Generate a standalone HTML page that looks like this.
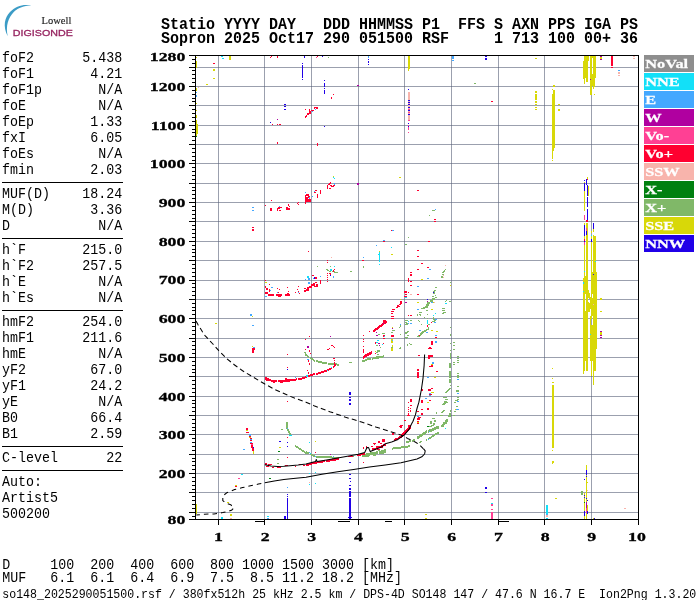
<!DOCTYPE html><html><head><meta charset="utf-8"><title>Ionogram</title>
<style>html,body{margin:0;padding:0;background:#fff}svg{display:block}.m,.mb,.ms,.s,.l{filter:grayscale(1)}#logo text{filter:opacity(0.999)}.m{font-family:"Liberation Mono",monospace;font-size:13.33px;fill:#000}.mb{font-family:"Liberation Mono",monospace;font-size:15px;font-weight:bold;fill:#000}.ms{font-family:"Liberation Mono",monospace;font-size:11.58px;fill:#000}.s{font-family:"Liberation Serif",serif;font-weight:bold;font-size:13px;fill:#000;stroke:#000;stroke-width:0.3px}.l{font-family:"Liberation Serif",serif;font-weight:bold;font-size:13.5px;fill:#fff;stroke:#fff;stroke-width:0.25px}</style></head><body>
<svg width="700" height="600" viewBox="0 0 700 600">
<rect width="700" height="600" fill="#fff"/>
<g id="logo">
<path d="M32.3 5.9 C25 3.4 16 5.5 10 12 C4.6 17.8 2.6 26 7.7 36.2 C5.6 26 8 18 14 11.8 C19 7.2 25 5.6 32.3 5.9 Z" fill="#3c9cc6"/>
<text x="41.6" y="23.8" style="font-family:'Liberation Serif',serif;font-size:10.5px;fill:#222;stroke:#222;stroke-width:0.15">Lowell</text>
<text transform="translate(12.8,35.5) scale(1.115,1)" style="font-family:'Liberation Sans',sans-serif;font-size:9.6px;fill:#962460;stroke:#962460;stroke-width:0.3">DIGISONDE</text>
</g>
<text class="mb" transform="translate(161,28.8) scale(1,1.08)" xml:space="preserve">Statio YYYY DAY   DDD HHMMSS P1  FFS S AXN PPS IGA PS</text>
<text class="mb" transform="translate(161,43) scale(1,1.08)" xml:space="preserve">Sopron 2025 Oct17 290 051500 RSF     1 713 100 00+ 36</text>
<text class="m" transform="translate(2.1,61.8) scale(1,1.11)" xml:space="preserve">foF2</text>
<text class="m" transform="translate(122.2,61.8) scale(1,1.11)" text-anchor="end" xml:space="preserve">5.438</text>
<text class="m" transform="translate(2.1,77.8) scale(1,1.11)" xml:space="preserve">foF1</text>
<text class="m" transform="translate(122.2,77.8) scale(1,1.11)" text-anchor="end" xml:space="preserve">4.21</text>
<text class="m" transform="translate(2.1,93.8) scale(1,1.11)" xml:space="preserve">foF1p</text>
<text class="m" transform="translate(122.2,93.8) scale(1,1.11)" text-anchor="end" xml:space="preserve">N/A</text>
<text class="m" transform="translate(2.1,109.8) scale(1,1.11)" xml:space="preserve">foE</text>
<text class="m" transform="translate(122.2,109.8) scale(1,1.11)" text-anchor="end" xml:space="preserve">N/A</text>
<text class="m" transform="translate(2.1,125.8) scale(1,1.11)" xml:space="preserve">foEp</text>
<text class="m" transform="translate(122.2,125.8) scale(1,1.11)" text-anchor="end" xml:space="preserve">1.33</text>
<text class="m" transform="translate(2.1,141.8) scale(1,1.11)" xml:space="preserve">fxI</text>
<text class="m" transform="translate(122.2,141.8) scale(1,1.11)" text-anchor="end" xml:space="preserve">6.05</text>
<text class="m" transform="translate(2.1,157.8) scale(1,1.11)" xml:space="preserve">foEs</text>
<text class="m" transform="translate(122.2,157.8) scale(1,1.11)" text-anchor="end" xml:space="preserve">N/A</text>
<text class="m" transform="translate(2.1,173.8) scale(1,1.11)" xml:space="preserve">fmin</text>
<text class="m" transform="translate(122.2,173.8) scale(1,1.11)" text-anchor="end" xml:space="preserve">2.03</text>
<text class="m" transform="translate(2.1,197.8) scale(1,1.11)" xml:space="preserve">MUF(D)</text>
<text class="m" transform="translate(122.2,197.8) scale(1,1.11)" text-anchor="end" xml:space="preserve">18.24</text>
<text class="m" transform="translate(2.1,213.8) scale(1,1.11)" xml:space="preserve">M(D)</text>
<text class="m" transform="translate(122.2,213.8) scale(1,1.11)" text-anchor="end" xml:space="preserve">3.36</text>
<text class="m" transform="translate(2.1,229.8) scale(1,1.11)" xml:space="preserve">D</text>
<text class="m" transform="translate(122.2,229.8) scale(1,1.11)" text-anchor="end" xml:space="preserve">N/A</text>
<text class="m" transform="translate(2.1,253.8) scale(1,1.11)" xml:space="preserve">h`F</text>
<text class="m" transform="translate(122.2,253.8) scale(1,1.11)" text-anchor="end" xml:space="preserve">215.0</text>
<text class="m" transform="translate(2.1,269.8) scale(1,1.11)" xml:space="preserve">h`F2</text>
<text class="m" transform="translate(122.2,269.8) scale(1,1.11)" text-anchor="end" xml:space="preserve">257.5</text>
<text class="m" transform="translate(2.1,285.8) scale(1,1.11)" xml:space="preserve">h`E</text>
<text class="m" transform="translate(122.2,285.8) scale(1,1.11)" text-anchor="end" xml:space="preserve">N/A</text>
<text class="m" transform="translate(2.1,301.8) scale(1,1.11)" xml:space="preserve">h`Es</text>
<text class="m" transform="translate(122.2,301.8) scale(1,1.11)" text-anchor="end" xml:space="preserve">N/A</text>
<text class="m" transform="translate(2.1,326.3) scale(1,1.11)" xml:space="preserve">hmF2</text>
<text class="m" transform="translate(122.2,326.3) scale(1,1.11)" text-anchor="end" xml:space="preserve">254.0</text>
<text class="m" transform="translate(2.1,342.3) scale(1,1.11)" xml:space="preserve">hmF1</text>
<text class="m" transform="translate(122.2,342.3) scale(1,1.11)" text-anchor="end" xml:space="preserve">211.6</text>
<text class="m" transform="translate(2.1,358.3) scale(1,1.11)" xml:space="preserve">hmE</text>
<text class="m" transform="translate(122.2,358.3) scale(1,1.11)" text-anchor="end" xml:space="preserve">N/A</text>
<text class="m" transform="translate(2.1,374.3) scale(1,1.11)" xml:space="preserve">yF2</text>
<text class="m" transform="translate(122.2,374.3) scale(1,1.11)" text-anchor="end" xml:space="preserve">67.0</text>
<text class="m" transform="translate(2.1,390.3) scale(1,1.11)" xml:space="preserve">yF1</text>
<text class="m" transform="translate(122.2,390.3) scale(1,1.11)" text-anchor="end" xml:space="preserve">24.2</text>
<text class="m" transform="translate(2.1,406.3) scale(1,1.11)" xml:space="preserve">yE</text>
<text class="m" transform="translate(122.2,406.3) scale(1,1.11)" text-anchor="end" xml:space="preserve">N/A</text>
<text class="m" transform="translate(2.1,422.3) scale(1,1.11)" xml:space="preserve">B0</text>
<text class="m" transform="translate(122.2,422.3) scale(1,1.11)" text-anchor="end" xml:space="preserve">66.4</text>
<text class="m" transform="translate(2.1,438.3) scale(1,1.11)" xml:space="preserve">B1</text>
<text class="m" transform="translate(122.2,438.3) scale(1,1.11)" text-anchor="end" xml:space="preserve">2.59</text>
<text class="m" transform="translate(2.1,462.3) scale(1,1.11)" xml:space="preserve">C-level</text>
<text class="m" transform="translate(122.2,462.3) scale(1,1.11)" text-anchor="end" xml:space="preserve">22</text>
<text class="m" transform="translate(2.1,486.3) scale(1,1.11)" xml:space="preserve">Auto:</text>
<text class="m" transform="translate(2.1,502.3) scale(1,1.11)" xml:space="preserve">Artist5</text>
<text class="m" transform="translate(2.1,518.3) scale(1,1.11)" xml:space="preserve">500200</text>
<rect x="2" y="182.0" width="121" height="1" fill="#000"/>
<rect x="2" y="238.0" width="121" height="1" fill="#000"/>
<rect x="2" y="310.0" width="121" height="1" fill="#000"/>
<rect x="2" y="446.0" width="121" height="1" fill="#000"/>
<rect x="2" y="470.0" width="121" height="1" fill="#000"/>
<text class="m" transform="translate(2.2,569.3) scale(1,1.11)" xml:space="preserve">D     100  200  400  600  800 1000 1500 3000 [km]</text>
<text class="m" transform="translate(2.2,582.3) scale(1,1.11)" xml:space="preserve">MUF   6.1  6.1  6.4  6.9  7.5  8.5 11.2 18.2 [MHz]</text>
<text class="ms" transform="translate(2.3,597.5) scale(1,1.1)" xml:space="preserve">so148_2025290051500.rsf / 380fx512h 25 kHz 2.5 km / DPS-4D SO148 147 / 47.6 N 16.7 E  Ion2Png 1.3.20</text>
<g id="grid" shape-rendering="crispEdges">
<rect x="196" y="512" width="443" height="1" fill="#596178" fill-opacity="0.6"/>
<rect x="196" y="492" width="443" height="1" fill="#596178" fill-opacity="0.6"/>
<rect x="196" y="473" width="443" height="1" fill="#596178" fill-opacity="0.6"/>
<rect x="196" y="454" width="443" height="1" fill="#596178" fill-opacity="0.6"/>
<rect x="196" y="434" width="443" height="1" fill="#596178" fill-opacity="0.6"/>
<rect x="196" y="415" width="443" height="1" fill="#596178" fill-opacity="0.6"/>
<rect x="196" y="396" width="443" height="1" fill="#596178" fill-opacity="0.6"/>
<rect x="196" y="376" width="443" height="1" fill="#596178" fill-opacity="0.6"/>
<rect x="196" y="357" width="443" height="1" fill="#596178" fill-opacity="0.6"/>
<rect x="196" y="338" width="443" height="1" fill="#596178" fill-opacity="0.6"/>
<rect x="196" y="318" width="443" height="1" fill="#596178" fill-opacity="0.6"/>
<rect x="196" y="299" width="443" height="1" fill="#596178" fill-opacity="0.6"/>
<rect x="196" y="280" width="443" height="1" fill="#596178" fill-opacity="0.6"/>
<rect x="196" y="260" width="443" height="1" fill="#596178" fill-opacity="0.6"/>
<rect x="196" y="241" width="443" height="1" fill="#596178" fill-opacity="0.6"/>
<rect x="196" y="221" width="443" height="1" fill="#596178" fill-opacity="0.6"/>
<rect x="196" y="202" width="443" height="1" fill="#596178" fill-opacity="0.6"/>
<rect x="196" y="183" width="443" height="1" fill="#596178" fill-opacity="0.6"/>
<rect x="196" y="163" width="443" height="1" fill="#596178" fill-opacity="0.6"/>
<rect x="196" y="144" width="443" height="1" fill="#596178" fill-opacity="0.6"/>
<rect x="196" y="125" width="443" height="1" fill="#596178" fill-opacity="0.6"/>
<rect x="196" y="105" width="443" height="1" fill="#596178" fill-opacity="0.6"/>
<rect x="196" y="86" width="443" height="1" fill="#596178" fill-opacity="0.6"/>
<rect x="196" y="67" width="443" height="1" fill="#596178" fill-opacity="0.6"/>
<rect x="218" y="56" width="1" height="464" fill="#596178" fill-opacity="0.6"/>
<rect x="264" y="56" width="1" height="464" fill="#596178" fill-opacity="0.6"/>
<rect x="311" y="56" width="1" height="464" fill="#596178" fill-opacity="0.6"/>
<rect x="358" y="56" width="1" height="464" fill="#596178" fill-opacity="0.6"/>
<rect x="404" y="56" width="1" height="464" fill="#596178" fill-opacity="0.6"/>
<rect x="451" y="56" width="1" height="464" fill="#596178" fill-opacity="0.6"/>
<rect x="498" y="56" width="1" height="464" fill="#596178" fill-opacity="0.6"/>
<rect x="544" y="56" width="1" height="464" fill="#596178" fill-opacity="0.6"/>
<rect x="591" y="56" width="1" height="464" fill="#596178" fill-opacity="0.6"/>
</g>
<g id="data" shape-rendering="crispEdges">
<path fill="#d8d808" d="M196 57h1v1h-1zM196 61h1v7h-1zM196 88h1v3h-1zM196 103h1v1h-1zM196 110h1v1h-1zM196 115h1v3h-1zM196 120h1v16h-1zM196 504h1v10h-1zM197 124h1v10h-1zM206 84h2v1h-2zM213 69h2v2h-2zM213 78h2v1h-2zM215 323h2v1h-2zM227 502h2v1h-2zM229 56h2v4h-2zM230 514h2v2h-2zM235 485h2v1h-2zM246 430h2v1h-2zM249 437h2v1h-2zM252 316h1v1h-1zM252 346h1v1h-1zM253 451h1v3h-1zM265 282h2v1h-2zM279 447h2v1h-2zM308 464h1v1h-1zM315 441h1v1h-1zM333 176h1v1h-1zM375 351h1v1h-1zM379 251h1v1h-1zM391 254h2v1h-2zM391 339h2v4h-2zM391 348h2v3h-2zM392 327h1v1h-1zM392 345h1v2h-1zM399 177h2v1h-2zM400 299h1v1h-1zM408 56h2v13h-2zM408 69h1v2h-1zM417 302h2v1h-2zM417 422h2v1h-2zM421 279h2v1h-2zM425 514h2v1h-2zM425 518h2v1h-2zM427 402h2v1h-2zM431 309h2v1h-2zM431 330h2v1h-2zM431 364h2v1h-2zM431 392h3v1h-3zM433 302h1v1h-1zM434 377h2v1h-2zM436 331h2v1h-2zM450 285h1v1h-1zM455 409h1v1h-1zM535 58h2v1h-2zM535 91h2v2h-2zM535 94h2v2h-2zM535 96h2v4h-2zM535 101h2v2h-2zM535 104h2v1h-2zM535 107h2v1h-2zM535 109h2v1h-2zM552 89h1v1h-1zM552 94h3v54h-3zM552 148h2v3h-2zM552 151h1v8h-1zM552 160h1v1h-1zM552 368h1v1h-1zM552 378h1v1h-1zM552 382h2v1h-2zM552 385h2v63h-2zM552 450h1v1h-1zM552 461h2v2h-2zM552 463h1v1h-1zM553 85h2v2h-2zM553 90h2v4h-2zM555 498h2v1h-2zM558 104h2v1h-2zM558 109h2v2h-2zM583 61h5v10h-5zM583 71h2v8h-2zM583 278h1v38h-1zM583 316h5v45h-5zM583 361h1v13h-1zM584 56h5v5h-5zM584 79h1v5h-1zM584 182h1v29h-1zM584 223h1v2h-1zM584 236h1v3h-1zM584 236h1v80h-1zM584 245h1v5h-1zM584 361h1v10h-1zM584 493h1v26h-1zM585 71h1v7h-1zM585 276h1v18h-1zM585 311h1v5h-1zM586 71h2v11h-2zM586 223h2v27h-2zM586 236h2v80h-2zM586 361h2v10h-2zM586 465h1v54h-1zM587 177h1v2h-1zM587 482h1v1h-1zM587 505h1v8h-1zM588 186h1v10h-1zM588 290h1v8h-1zM588 302h1v10h-1zM589 293h1v6h-1zM589 303h1v9h-1zM590 56h2v39h-2zM590 297h1v12h-1zM590 316h1v33h-1zM590 349h6v12h-6zM591 231h1v2h-1zM591 236h1v80h-1zM591 243h1v7h-1zM591 316h1v3h-1zM591 325h2v24h-2zM591 361h1v15h-1zM592 56h1v2h-1zM592 74h1v12h-1zM592 272h1v22h-1zM592 298h1v18h-1zM593 56h3v22h-3zM593 78h2v9h-2zM593 87h1v2h-1zM593 229h1v3h-1zM593 235h1v15h-1zM593 236h3v80h-3zM593 316h4v33h-4zM593 361h1v24h-1zM593 518h1v1h-1zM594 94h1v1h-1zM594 237h2v13h-2zM594 361h2v10h-2zM596 272h1v44h-1zM600 57h2v2h-2zM600 298h2v2h-2zM600 311h2v1h-2zM600 332h2v2h-2zM600 334h2v1h-2z"/>
<path fill="#80b868" d="M277 459h2v1h-2zM277 463h2v1h-2zM281 429h2v1h-2zM286 422h2v5h-2zM286 427h2v2h-2zM287 429h2v2h-2zM288 431h2v2h-2zM289 433h2v2h-2zM295 445h1v2h-1zM296 446h1v2h-1zM297 446h1v2h-1zM298 447h1v2h-1zM299 448h1v2h-1zM300 448h1v2h-1zM301 449h1v2h-1zM302 450h1v2h-1zM303 450h1v2h-1zM304 352h2v1h-2zM304 451h1v2h-1zM305 353h1v3h-1zM305 452h1v2h-1zM306 354h1v2h-1zM306 451h1v2h-1zM306 452h1v2h-1zM307 355h1v2h-1zM307 452h1v2h-1zM308 356h1v2h-1zM308 452h1v2h-1zM310 357h1v2h-1zM310 453h1v2h-1zM311 358h1v2h-1zM311 454h1v2h-1zM312 358h1v2h-1zM312 454h1v2h-1zM313 359h1v2h-1zM313 455h1v2h-1zM314 360h1v2h-1zM314 455h1v2h-1zM316 360h1v2h-1zM316 456h1v2h-1zM317 266h1v1h-1zM317 360h1v2h-1zM317 456h1v2h-1zM318 361h1v2h-1zM318 456h1v2h-1zM319 361h1v2h-1zM319 456h1v2h-1zM320 361h1v2h-1zM320 456h1v2h-1zM321 361h1v2h-1zM321 456h1v2h-1zM322 362h1v2h-1zM322 456h1v2h-1zM323 362h1v2h-1zM323 456h1v2h-1zM324 362h1v2h-1zM324 456h1v2h-1zM325 362h1v2h-1zM325 456h1v2h-1zM326 269h2v1h-2zM326 362h1v2h-1zM326 456h1v2h-1zM327 270h2v1h-2zM327 456h1v2h-1zM328 57h1v1h-1zM328 363h1v2h-1zM328 456h1v2h-1zM329 271h2v1h-2zM329 363h1v2h-1zM329 456h1v2h-1zM330 266h1v1h-1zM330 363h1v2h-1zM330 456h1v2h-1zM331 363h1v2h-1zM331 456h1v2h-1zM332 271h3v1h-3zM332 363h1v2h-1zM332 457h1v2h-1zM333 363h1v2h-1zM333 457h1v2h-1zM334 272h4v1h-4zM334 363h1v2h-1zM334 457h1v2h-1zM335 363h1v2h-1zM335 457h1v2h-1zM336 363h1v2h-1zM336 457h1v2h-1zM337 364h1v2h-1zM337 457h1v2h-1zM338 364h1v2h-1zM338 457h1v2h-1zM349 362h3v1h-3zM349 456h5v1h-5zM350 271h2v1h-2zM362 360h1v2h-1zM362 454h1v3h-1zM363 266h1v2h-1zM363 360h1v2h-1zM363 454h1v3h-1zM363 454h2v1h-2zM364 360h1v2h-1zM364 454h1v3h-1zM365 359h1v2h-1zM365 454h1v3h-1zM366 359h1v2h-1zM366 453h1v3h-1zM366 456h3v1h-3zM367 358h1v2h-1zM367 453h1v3h-1zM368 358h1v2h-1zM368 453h1v3h-1zM369 358h1v2h-1zM369 453h1v3h-1zM370 358h1v2h-1zM370 452h1v3h-1zM370 452h2v1h-2zM371 452h1v3h-1zM372 358h1v2h-1zM372 452h1v3h-1zM373 357h1v2h-1zM373 452h1v3h-1zM373 455h3v1h-3zM374 357h1v2h-1zM374 452h1v3h-1zM375 357h1v2h-1zM375 452h1v3h-1zM376 345h2v1h-2zM376 352h2v1h-2zM376 356h3v1h-3zM376 357h1v2h-1zM376 451h1v3h-1zM377 350h2v1h-2zM377 350h3v2h-3zM377 354h2v1h-2zM377 357h1v2h-1zM377 451h1v3h-1zM378 334h2v1h-2zM378 357h1v2h-1zM378 450h2v1h-2zM379 356h1v2h-1zM379 451h1v3h-1zM380 347h1v1h-1zM380 356h1v2h-1zM380 451h1v3h-1zM381 356h1v2h-1zM381 450h1v3h-1zM381 453h3v1h-3zM382 333h3v1h-3zM382 356h1v2h-1zM382 450h1v3h-1zM383 355h1v2h-1zM383 450h1v3h-1zM384 449h2v1h-2zM384 450h1v3h-1zM385 450h1v3h-1zM391 332h2v1h-2zM391 347h2v1h-2zM392 330h3v1h-3zM392 448h1v2h-1zM393 447h1v2h-1zM394 447h1v2h-1zM395 447h1v2h-1zM396 447h1v2h-1zM397 447h1v2h-1zM398 447h1v2h-1zM399 327h1v1h-1zM399 348h2v1h-2zM399 447h1v2h-1zM400 325h1v2h-1zM400 334h1v1h-1zM400 347h1v1h-1zM400 447h1v2h-1zM401 446h1v2h-1zM402 446h1v2h-1zM403 446h1v2h-1zM404 446h1v2h-1zM405 244h2v1h-2zM405 320h3v1h-3zM405 322h2v1h-2zM405 324h3v1h-3zM405 332h3v1h-3zM405 333h2v1h-2zM405 337h3v1h-3zM405 446h1v2h-1zM406 323h3v1h-3zM406 338h1v1h-1zM406 441h1v2h-1zM406 446h1v2h-1zM407 331h2v1h-2zM407 335h2v1h-2zM407 344h1v2h-1zM407 441h1v2h-1zM407 446h1v2h-1zM408 237h1v1h-1zM408 441h1v2h-1zM408 445h1v2h-1zM409 343h1v1h-1zM409 440h1v2h-1zM409 445h1v2h-1zM410 320h2v1h-2zM410 344h2v1h-2zM410 440h1v2h-1zM412 440h1v2h-1zM413 439h1v2h-1zM414 439h1v2h-1zM417 314h1v2h-1zM417 336h3v1h-3zM417 436h1v3h-1zM418 320h1v1h-1zM418 335h3v1h-3zM418 436h1v3h-1zM419 312h3v1h-3zM419 314h2v1h-2zM419 321h1v1h-1zM419 435h1v3h-1zM419 442h2v1h-2zM420 315h1v1h-1zM420 333h3v1h-3zM420 334h2v1h-2zM420 434h1v3h-1zM420 441h2v1h-2zM421 308h4v1h-4zM421 324h1v1h-1zM421 332h3v1h-3zM421 434h1v3h-1zM422 331h4v1h-4zM422 433h1v3h-1zM423 307h3v1h-3zM423 432h1v3h-1zM424 317h1v1h-1zM424 330h3v1h-3zM424 432h1v3h-1zM425 306h3v2h-3zM425 431h1v3h-1zM426 304h3v2h-3zM426 310h2v1h-2zM426 329h3v1h-3zM426 430h1v3h-1zM426 439h1v2h-1zM427 302h3v2h-3zM427 314h1v1h-1zM427 318h1v1h-1zM428 324h2v1h-2zM428 327h1v3h-1zM428 430h1v3h-1zM428 438h1v2h-1zM429 215h1v1h-1zM429 426h3v1h-3zM429 429h1v3h-1zM429 437h1v2h-1zM430 300h3v2h-3zM430 421h2v3h-2zM430 429h1v3h-1zM430 437h1v2h-1zM431 425h3v1h-3zM431 429h1v3h-1zM431 436h1v2h-1zM432 210h3v1h-3zM432 296h2v1h-2zM432 298h3v2h-3zM432 321h3v1h-3zM432 418h3v1h-3zM432 428h1v3h-1zM432 435h1v2h-1zM433 291h2v3h-2zM433 317h1v3h-1zM433 423h2v2h-2zM433 428h1v3h-1zM433 435h1v2h-1zM434 290h2v1h-2zM434 319h2v2h-2zM434 420h2v2h-2zM434 427h1v3h-1zM434 434h1v2h-1zM435 287h2v1h-2zM435 295h1v1h-1zM435 297h2v1h-2zM435 427h1v3h-1zM435 433h1v2h-1zM436 412h1v2h-1zM436 426h1v3h-1zM436 433h1v2h-1zM437 426h1v3h-1zM437 432h1v2h-1zM438 426h1v3h-1zM438 432h1v2h-1zM440 415h3v1h-3zM441 276h2v1h-2zM441 277h2v1h-2zM441 412h2v1h-2zM441 425h3v2h-3zM442 272h2v1h-2zM442 274h2v1h-2zM442 308h3v1h-3zM442 310h3v1h-3zM442 313h2v1h-2zM442 404h3v1h-3zM442 411h2v1h-2zM442 424h3v1h-3zM443 271h2v1h-2zM443 312h2v1h-2zM443 397h4v1h-4zM443 403h3v1h-3zM443 410h2v1h-2zM443 422h4v2h-4zM444 270h1v1h-1zM444 401h3v2h-3zM445 269h1v1h-1zM445 301h1v1h-1zM445 312h1v1h-1zM445 392h2v1h-2zM445 399h3v1h-3zM445 420h3v2h-3zM446 300h1v1h-1zM446 391h2v1h-2zM446 402h2v1h-2zM446 419h2v1h-2zM447 390h2v1h-2zM448 389h2v1h-2zM448 415h3v2h-3zM449 301h2v1h-2zM449 363h2v5h-2zM449 371h2v7h-2zM449 379h2v4h-2zM449 388h2v1h-2zM449 413h2v2h-2zM450 282h1v1h-1zM450 327h1v1h-1zM450 334h1v2h-1zM450 343h1v1h-1zM450 350h1v1h-1zM450 353h1v6h-1zM450 385h1v1h-1zM450 410h1v2h-1zM453 342h2v1h-2zM453 345h2v1h-2zM453 349h2v1h-2zM453 362h2v1h-2zM453 364h2v1h-2zM453 415h2v1h-2zM454 402h2v1h-2zM454 411h2v1h-2zM455 400h3v1h-3zM456 390h3v2h-3zM456 406h2v1h-2zM457 356h2v1h-2zM457 358h2v1h-2zM457 360h2v1h-2zM457 362h2v1h-2zM457 373h2v1h-2zM457 375h2v3h-2zM457 386h2v1h-2zM457 397h2v1h-2zM457 399h2v1h-2zM474 83h2v1h-2zM581 491h2v4h-2z"/>
<path fill="#ff0030" d="M213 63h2v1h-2zM235 486h2v1h-2zM246 428h2v2h-2zM246 432h3v1h-3zM249 436h2v1h-2zM250 438h2v1h-2zM250 440h2v1h-2zM250 443h3v1h-3zM251 445h2v3h-2zM252 227h2v1h-2zM252 229h2v2h-2zM252 348h3v2h-3zM252 350h2v3h-2zM252 448h2v1h-2zM252 449h2v2h-2zM265 205h1v1h-1zM265 280h1v1h-1zM265 286h1v2h-1zM265 292h3v2h-3zM265 377h2v2h-2zM265 378h1v2h-1zM265 463h2v2h-2zM266 288h2v2h-2zM266 378h1v2h-1zM266 379h3v2h-3zM266 466h3v1h-3zM267 378h1v2h-1zM268 294h6v2h-6zM268 378h1v2h-1zM268 464h4v1h-4zM269 284h1v1h-1zM269 289h1v3h-1zM269 379h1v2h-1zM270 57h1v1h-1zM270 208h2v3h-2zM270 379h1v2h-1zM271 56h1v1h-1zM271 200h1v1h-1zM271 380h1v2h-1zM272 124h1v1h-1zM272 380h1v2h-1zM272 467h2v1h-2zM273 380h1v2h-1zM273 382h2v1h-2zM274 380h1v2h-1zM275 380h1v2h-1zM276 294h6v2h-6zM276 380h1v2h-1zM277 56h1v2h-1zM277 124h1v1h-1zM277 142h1v2h-1zM277 208h1v3h-1zM277 288h1v1h-1zM277 467h4v1h-4zM278 207h2v2h-2zM278 292h1v1h-1zM278 296h3v1h-3zM278 380h1v2h-1zM279 124h2v1h-2zM279 210h2v1h-2zM279 289h1v1h-1zM279 380h1v2h-1zM280 207h2v1h-2zM280 380h1v2h-1zM280 382h3v1h-3zM281 380h1v2h-1zM282 380h1v2h-1zM283 380h1v2h-1zM284 380h1v2h-1zM285 294h5v2h-5zM285 378h2v2h-2zM285 380h1v2h-1zM285 465h3v1h-3zM286 207h2v3h-2zM286 380h1v2h-1zM287 287h1v1h-1zM287 293h2v1h-2zM287 354h1v1h-1zM287 367h1v1h-1zM287 379h3v1h-3zM287 380h1v2h-1zM287 401h1v1h-1zM287 437h1v1h-1zM287 457h1v1h-1zM288 204h1v2h-1zM288 208h2v2h-2zM288 291h1v1h-1zM288 380h1v2h-1zM289 206h1v1h-1zM289 380h1v2h-1zM290 379h1v2h-1zM291 379h1v2h-1zM292 379h1v2h-1zM293 379h1v2h-1zM294 379h1v2h-1zM295 292h1v1h-1zM295 379h1v2h-1zM295 466h1v1h-1zM296 378h1v2h-1zM297 203h1v1h-1zM297 289h1v1h-1zM298 202h1v1h-1zM298 204h1v1h-1zM298 286h1v1h-1zM298 291h1v2h-1zM298 378h1v2h-1zM299 293h1v1h-1zM299 378h1v2h-1zM299 464h2v1h-2zM300 378h1v2h-1zM301 378h1v2h-1zM302 377h1v2h-1zM303 377h1v2h-1zM303 465h2v1h-2zM304 288h2v1h-2zM304 290h2v2h-2zM304 377h1v2h-1zM305 109h1v1h-1zM305 116h1v2h-1zM305 195h1v9h-1zM305 339h1v1h-1zM305 349h1v1h-1zM305 376h1v2h-1zM306 115h1v2h-1zM306 194h3v2h-3zM306 197h2v2h-2zM306 199h5v3h-5zM306 289h3v2h-3zM306 376h1v2h-1zM306 464h1v2h-1zM307 113h2v2h-2zM307 287h2v2h-2zM307 370h1v1h-1zM307 375h1v2h-1zM307 464h1v2h-1zM308 196h2v2h-2zM308 251h1v1h-1zM308 360h1v2h-1zM308 372h1v2h-1zM308 375h1v2h-1zM308 464h1v2h-1zM309 109h1v2h-1zM309 111h2v3h-2zM309 286h3v2h-3zM309 336h1v1h-1zM309 350h1v2h-1zM309 363h1v2h-1zM309 375h1v2h-1zM309 463h1v2h-1zM310 353h1v1h-1zM310 374h1v2h-1zM310 463h1v2h-1zM311 110h3v1h-3zM311 284h2v2h-2zM311 374h1v2h-1zM311 463h1v2h-1zM312 275h2v1h-2zM312 374h1v2h-1zM312 462h1v2h-1zM313 283h2v3h-2zM313 373h1v2h-1zM313 462h1v2h-1zM314 107h4v1h-4zM314 108h1v1h-1zM314 192h2v1h-2zM314 286h3v1h-3zM314 373h1v2h-1zM314 462h1v2h-1zM315 190h2v1h-2zM315 277h2v2h-2zM315 282h2v1h-2zM315 452h1v1h-1zM315 462h1v2h-1zM316 108h2v1h-2zM316 284h2v3h-2zM316 373h1v2h-1zM316 462h1v2h-1zM317 56h1v1h-1zM317 143h1v3h-1zM317 194h1v4h-1zM317 373h1v2h-1zM317 461h1v2h-1zM318 372h1v2h-1zM318 461h1v2h-1zM319 372h1v2h-1zM319 461h1v2h-1zM320 190h1v4h-1zM320 280h1v4h-1zM320 372h1v2h-1zM320 461h1v2h-1zM321 371h1v2h-1zM321 461h1v2h-1zM322 371h1v2h-1zM322 461h1v2h-1zM323 371h1v2h-1zM323 460h1v2h-1zM324 370h1v2h-1zM324 460h1v2h-1zM325 370h1v2h-1zM326 370h1v2h-1zM326 460h1v2h-1zM327 185h1v4h-1zM327 260h1v1h-1zM327 262h1v1h-1zM327 273h1v1h-1zM327 275h1v1h-1zM327 277h1v1h-1zM327 279h1v1h-1zM327 281h1v1h-1zM327 349h2v1h-2zM327 369h1v2h-1zM327 460h1v2h-1zM328 184h2v1h-2zM328 369h1v2h-1zM328 460h1v2h-1zM329 183h2v1h-2zM329 188h2v1h-2zM329 273h2v1h-2zM329 348h1v1h-1zM329 368h1v2h-1zM329 460h1v2h-1zM330 182h1v1h-1zM330 185h2v1h-2zM330 274h1v1h-1zM330 368h1v2h-1zM330 459h1v2h-1zM331 97h1v2h-1zM331 186h3v1h-3zM331 345h2v1h-2zM331 367h1v2h-1zM331 459h1v2h-1zM332 459h1v2h-1zM333 94h1v1h-1zM333 185h2v1h-2zM333 270h1v2h-1zM333 346h1v1h-1zM333 358h2v1h-2zM333 366h1v2h-1zM333 459h1v2h-1zM334 269h1v1h-1zM334 347h1v1h-1zM334 360h1v1h-1zM334 362h1v3h-1zM334 365h1v2h-1zM334 459h1v2h-1zM335 364h1v2h-1zM335 459h1v2h-1zM336 458h1v2h-1zM337 458h1v2h-1zM338 458h1v2h-1zM348 456h5v1h-5zM357 454h4v2h-4zM361 453h4v2h-4zM362 260h2v1h-2zM363 335h1v1h-1zM363 339h1v1h-1zM363 341h1v1h-1zM363 346h1v1h-1zM363 349h1v4h-1zM363 356h1v3h-1zM363 447h1v2h-1zM363 462h1v1h-1zM364 355h1v3h-1zM365 354h1v3h-1zM366 354h1v3h-1zM366 446h1v2h-1zM367 353h1v3h-1zM368 353h1v3h-1zM369 331h1v1h-1zM369 352h1v3h-1zM370 352h1v3h-1zM371 351h1v3h-1zM371 446h2v1h-2zM372 448h1v2h-1zM373 330h2v2h-2zM373 443h3v1h-3zM373 448h1v2h-1zM374 329h2v2h-2zM374 444h1v1h-1zM374 448h1v2h-1zM375 328h2v2h-2zM375 342h1v2h-1zM375 353h1v1h-1zM375 448h1v2h-1zM376 328h2v2h-2zM376 446h2v1h-2zM376 447h1v2h-1zM377 327h2v2h-2zM377 447h1v2h-1zM377 449h3v1h-3zM378 326h2v2h-2zM378 441h2v2h-2zM378 446h1v2h-1zM379 325h2v2h-2zM379 446h1v2h-1zM380 325h2v2h-2zM380 443h2v1h-2zM380 446h1v2h-1zM381 324h2v2h-2zM381 445h1v2h-1zM381 447h2v1h-2zM382 323h2v2h-2zM382 439h3v3h-3zM382 445h1v2h-1zM383 241h2v1h-2zM383 320h3v3h-3zM383 322h2v2h-2zM383 335h2v2h-2zM383 338h2v1h-2zM383 343h1v1h-1zM383 441h1v1h-1zM383 444h1v2h-1zM384 322h2v2h-2zM384 444h1v2h-1zM385 321h2v2h-2zM385 444h1v2h-1zM391 230h1v1h-1zM391 311h3v1h-3zM391 313h2v1h-2zM391 316h3v1h-3zM391 318h3v1h-3zM391 335h3v2h-3zM392 309h3v1h-3zM392 433h2v2h-2zM394 439h1v2h-1zM395 438h1v2h-1zM396 307h2v1h-2zM396 438h1v2h-1zM397 305h2v2h-2zM397 438h1v2h-1zM398 437h1v2h-1zM399 304h2v1h-2zM399 306h1v1h-1zM399 426h3v1h-3zM399 436h1v2h-1zM400 301h2v3h-2zM400 425h3v1h-3zM400 427h2v1h-2zM400 436h1v2h-1zM401 434h1v4h-1zM402 433h1v4h-1zM403 432h1v4h-1zM404 291h3v2h-3zM404 296h3v1h-3zM404 420h2v1h-2zM404 431h1v4h-1zM405 294h2v1h-2zM405 430h1v4h-1zM406 429h1v4h-1zM407 415h3v1h-3zM407 428h1v4h-1zM408 278h1v4h-1zM408 292h1v1h-1zM408 315h1v1h-1zM408 402h1v1h-1zM408 407h1v1h-1zM408 409h1v1h-1zM408 411h1v1h-1zM408 413h1v2h-1zM408 425h2v2h-2zM408 427h1v4h-1zM409 426h1v4h-1zM410 272h2v1h-2zM410 274h2v2h-2zM410 281h2v1h-2zM410 285h2v1h-2zM410 315h2v1h-2zM410 399h2v3h-2zM410 405h2v1h-2zM410 408h1v1h-1zM410 410h1v2h-1zM410 425h1v4h-1zM417 190h2v1h-2zM417 250h2v1h-2zM417 256h2v1h-2zM417 269h2v1h-2zM417 294h2v1h-2zM417 369h2v2h-2zM417 372h2v6h-2zM417 411h2v1h-2zM417 418h3v2h-3zM417 421h2v1h-2zM417 423h2v1h-2zM418 355h2v1h-2zM418 417h3v1h-3zM419 335h1v1h-1zM421 263h2v1h-2zM421 389h2v2h-2zM421 400h2v3h-2zM421 409h2v1h-2zM421 413h2v2h-2zM427 267h2v1h-2zM427 325h1v2h-1zM427 408h2v2h-2zM428 241h2v1h-2zM428 348h4v1h-4zM428 355h5v2h-5zM428 357h2v2h-2zM428 389h3v2h-3zM429 347h2v1h-2zM429 366h4v1h-4zM429 394h3v1h-3zM429 400h2v1h-2zM431 322h1v1h-1zM431 341h2v4h-2zM431 365h2v1h-2zM431 388h2v1h-2zM434 219h2v1h-2zM434 221h2v1h-2zM435 337h2v1h-2zM436 371h2v1h-2zM491 101h2v1h-2zM584 239h1v2h-1zM584 240h1v1h-1zM586 220h2v2h-2zM587 179h1v1h-1zM611 56h2v8h-2zM611 64h2v2h-2zM611 67h2v1h-2z"/>
<path fill="#f8b4ac" d="M198 87h1v1h-1zM230 518h2v1h-2zM309 482h1v1h-1zM331 257h1v1h-1zM408 92h2v29h-2zM410 294h2v1h-2zM434 302h1v1h-1zM443 275h1v1h-1zM443 277h1v1h-1zM445 265h1v1h-1zM546 515h2v2h-2zM587 490h1v1h-1zM593 304h1v1h-1zM618 72h2v2h-2zM618 75h2v1h-2zM624 508h2v1h-2zM633 56h2v1h-2zM633 58h2v1h-2z"/>
<path fill="#ff4094" d="M238 478h2v1h-2zM251 444h2v1h-2zM316 57h1v1h-1zM408 109h2v1h-2zM408 112h2v1h-2zM408 120h2v1h-2zM408 125h1v1h-1zM408 127h1v3h-1zM408 132h1v1h-1zM491 498h2v1h-2zM491 504h2v2h-2zM491 509h2v1h-2zM491 512h2v7h-2zM584 215h1v5h-1zM584 242h1v3h-1zM586 228h1v3h-1zM586 508h1v5h-1z"/>
<path fill="#44a8ff" d="M196 92h1v1h-1zM196 95h1v2h-1zM243 449h2v1h-2zM249 434h2v2h-2zM250 314h2v2h-2zM250 439h2v1h-2zM250 442h2v1h-2zM252 207h2v1h-2zM252 210h2v1h-2zM252 325h2v1h-2zM253 347h2v1h-2zM265 296h2v1h-2zM267 518h2v1h-2zM270 290h1v1h-1zM271 287h2v1h-2zM277 292h1v1h-1zM279 206h1v1h-1zM287 428h1v1h-1zM287 487h1v1h-1zM295 377h1v1h-1zM298 292h1v1h-1zM305 192h1v1h-1zM305 279h1v1h-1zM307 359h2v1h-2zM308 278h2v2h-2zM308 282h2v2h-2zM309 197h1v2h-1zM309 452h1v1h-1zM312 111h1v1h-1zM312 196h1v1h-1zM313 278h2v1h-2zM314 191h1v1h-1zM315 109h1v1h-1zM315 456h1v1h-1zM320 276h1v1h-1zM333 276h1v2h-1zM333 456h1v1h-1zM334 183h1v2h-1zM363 257h1v1h-1zM368 56h1v2h-1zM376 245h1v1h-1zM383 240h2v1h-2zM392 230h2v1h-2zM392 340h1v1h-1zM400 324h1v1h-1zM408 323h1v1h-1zM410 323h2v1h-2zM417 286h2v1h-2zM417 309h2v1h-2zM417 416h2v1h-2zM419 330h2v1h-2zM425 398h2v1h-2zM426 332h2v1h-2zM427 278h2v1h-2zM427 377h2v1h-2zM428 439h1v1h-1zM429 269h2v1h-2zM429 393h2v1h-2zM429 395h2v1h-2zM429 431h1v1h-1zM431 302h2v1h-2zM432 362h2v2h-2zM434 322h2v1h-2zM435 209h1v1h-1zM435 319h2v1h-2zM435 335h2v1h-2zM435 341h2v2h-2zM452 56h2v3h-2zM452 60h2v1h-2zM456 409h3v1h-3zM457 379h2v1h-2zM457 393h2v1h-2zM457 401h2v1h-2zM546 514h2v1h-2zM618 70h2v1h-2z"/>
<path fill="#12e0f8" d="M221 56h2v1h-2zM221 517h2v2h-2zM222 58h2v1h-2zM241 474h2v1h-2zM267 516h2v1h-2zM289 435h3v1h-3zM306 375h2v2h-2zM307 276h2v2h-2zM309 442h1v1h-1zM309 473h1v1h-1zM309 484h1v1h-1zM310 453h1v1h-1zM315 472h1v1h-1zM315 483h1v1h-1zM327 370h1v1h-1zM330 269h2v2h-2zM331 367h1v1h-1zM333 177h1v1h-1zM334 178h1v1h-1zM334 266h1v1h-1zM376 342h2v1h-2zM377 340h2v1h-2zM378 254h1v1h-1zM379 252h1v10h-1zM379 264h1v1h-1zM382 344h1v1h-1zM384 336h1v1h-1zM391 247h1v1h-1zM405 297h2v1h-2zM408 321h1v1h-1zM427 320h1v4h-1zM433 315h1v1h-1zM435 313h1v1h-1zM445 303h2v1h-2zM445 428h1v1h-1zM491 503h2v1h-2zM546 505h2v9h-2zM546 518h2v1h-2zM583 282h1v2h-1zM583 291h1v1h-1zM584 271h1v1h-1zM590 334h1v1h-1zM591 235h1v1h-1zM595 261h1v1h-1z"/>
<path fill="#b000a0" d="M277 119h1v1h-1zM307 346h2v2h-2zM330 336h1v1h-1zM330 454h1v1h-1zM357 85h2v1h-2zM357 183h2v2h-2zM376 332h1v1h-1zM376 335h2v1h-2zM378 343h2v1h-2zM379 345h1v1h-1zM383 323h1v1h-1zM392 328h1v1h-1zM405 302h2v1h-2zM427 301h1v1h-1zM586 502h1v6h-1zM590 79h1v1h-1zM600 56h2v1h-2zM600 59h2v1h-2zM600 331h2v1h-2zM600 335h2v1h-2zM600 337h2v1h-2z"/>
<path fill="#008010" d="M196 136h1v1h-1zM269 478h2v1h-2zM278 451h2v1h-2zM427 426h2v1h-2zM584 502h1v1h-1z"/>
<path fill="#2000e8" d="M253 447h1v1h-1zM270 122h1v1h-1zM279 441h2v1h-2zM284 104h2v1h-2zM284 106h2v1h-2zM284 109h2v1h-2zM284 516h2v3h-2zM287 369h1v1h-1zM287 442h1v1h-1zM287 446h1v1h-1zM287 494h1v1h-1zM287 496h1v1h-1zM287 498h1v21h-1zM302 63h1v1h-1zM302 65h1v13h-1zM302 79h1v1h-1zM304 56h1v2h-1zM314 277h1v2h-1zM322 56h1v1h-1zM324 80h1v1h-1zM324 83h1v4h-1zM324 88h1v1h-1zM324 90h1v2h-1zM324 92h1v2h-1zM324 126h1v1h-1zM330 275h1v1h-1zM348 517h4v1h-4zM349 392h2v3h-2zM349 397h2v1h-2zM349 399h2v2h-2zM349 403h2v2h-2zM349 462h2v1h-2zM349 474h2v1h-2zM349 478h2v1h-2zM349 485h2v1h-2zM349 488h2v2h-2zM349 491h2v6h-2zM349 498h2v21h-2zM350 481h1v1h-1zM368 59h1v1h-1zM368 61h1v1h-1zM368 62h1v1h-1zM368 64h1v1h-1zM408 89h1v1h-1zM408 100h2v1h-2zM408 102h2v1h-2zM408 104h2v1h-2zM408 107h2v1h-2zM408 110h2v1h-2zM408 114h2v1h-2zM408 123h1v1h-1zM408 126h1v1h-1zM427 299h1v1h-1zM433 292h1v1h-1zM485 56h2v1h-2zM485 58h2v2h-2zM485 487h2v2h-2zM485 492h2v1h-2zM584 180h1v1h-1zM584 183h1v8h-1zM584 225h1v11h-1zM584 241h1v1h-1zM584 479h1v1h-1zM584 495h1v1h-1zM584 497h1v1h-1zM584 511h1v5h-1zM586 179h1v6h-1zM586 231h1v4h-1zM586 470h1v5h-1zM586 476h1v1h-1zM586 498h1v1h-1zM587 185h1v11h-1zM587 197h1v10h-1zM587 209h1v5h-1zM587 214h1v6h-1zM587 500h1v1h-1zM587 511h1v3h-1zM591 239h1v3h-1zM591 240h1v2h-1zM593 223h1v6h-1zM593 274h1v1h-1zM594 518h1v1h-1z"/>
</g>
<g id="curves" fill="none" stroke="#000" stroke-width="1.05" stroke-linejoin="round">
<path d="M196.0 321.0 L198.2 325.0 L202.6 332.0 L204.8 335.3 L212.4 343.5 L218.8 350.6 L226.7 358.6 L234.6 365.0 L242.6 370.8 L250.5 375.5 L258.4 380.3 L264.8 384.0 L274.3 389.2 L282.2 392.7 L290.1 396.3 L298.0 399.3 L306.0 402.2 L314.0 405.7 L322.0 408.8 L329.8 411.7 L337.7 414.4 L345.6 417.3 L353.6 419.6 L361.5 422.0 L369.4 424.7 L375.8 427.0 L385.3 429.9 L394.8 433.0 L402.7 435.7 L407.5 438.4 L412.0 440.3 L416.0 442.5 L420.0 445.2 L423.2 448.6" stroke-dasharray="5 3.2"/>
<path d="M196.3 515.0 L204.5 514.2 L214.0 513.9 L222.8 512.6 L231.5 510.3 L233.9 507.9 L230.7 504.7 L225.9 503.1 L222.8 500.7 L222.8 496.0 L226.7 492.8 L234.6 489.6 L242.6 487.6 L250.5 485.7 L258.4 484.1 L264.8 482.8" stroke-dasharray="4.6 4" stroke-dashoffset="1"/>
<path d="M264.8 482.8 L274.3 480.9 L283.8 479.6 L293.3 478.5 L306.0 477.3 L321.9 474.3 L337.7 471.7 L353.6 469.5 L369.4 467.1 L385.3 465.0 L401.0 462.7 L417.0 459.0 L421.8 456.8 L424.6 454.0 L425.2 450.8 L423.4 448.6"/>
<path d="M264.8 464.7 L271.0 465.9 L277.5 466.6 L283.8 466.3 L290.0 465.7 L298.0 465.0 L306.0 464.0 L315.5 461.6 L316.3 459.5 L317.0 461.6 L326.6 460.0 L337.7 457.9 L348.8 455.9 L358.3 454.3 L364.7 452.4 L367.0 447.6 L368.6 447.6 L370.2 451.6 L375.8 449.2 L382.0 446.8 L385.3 443.7 L391.6 442.0 L398.0 439.4 L404.3 434.9 L409.0 429.4 L411.5 424.0 L413.0 421.2 L415.4 414.9 L417.0 408.5 L418.9 402.2 L421.4 389.5 L423.0 378.4 L424.1 365.7 L424.6 354.6"/>
</g>
<g id="frame" shape-rendering="crispEdges" fill="#000">
<rect x="195" y="55" width="444" height="1"/>
<rect x="195" y="519" width="444" height="1"/>
<rect x="195" y="55" width="1" height="465"/>
<rect x="638" y="55" width="1" height="465"/>
<rect x="189" y="519" width="6" height="1"/>
<rect x="192" y="516" width="3" height="1"/>
<rect x="189" y="512" width="6" height="1"/>
<rect x="192" y="508" width="3" height="1"/>
<rect x="192" y="504" width="3" height="1"/>
<rect x="192" y="500" width="3" height="1"/>
<rect x="192" y="496" width="3" height="1"/>
<rect x="189" y="492" width="6" height="1"/>
<rect x="192" y="489" width="3" height="1"/>
<rect x="192" y="485" width="3" height="1"/>
<rect x="192" y="481" width="3" height="1"/>
<rect x="192" y="477" width="3" height="1"/>
<rect x="189" y="473" width="6" height="1"/>
<rect x="192" y="469" width="3" height="1"/>
<rect x="192" y="465" width="3" height="1"/>
<rect x="192" y="461" width="3" height="1"/>
<rect x="192" y="458" width="3" height="1"/>
<rect x="189" y="454" width="6" height="1"/>
<rect x="192" y="450" width="3" height="1"/>
<rect x="192" y="446" width="3" height="1"/>
<rect x="192" y="442" width="3" height="1"/>
<rect x="192" y="438" width="3" height="1"/>
<rect x="189" y="434" width="6" height="1"/>
<rect x="192" y="430" width="3" height="1"/>
<rect x="192" y="427" width="3" height="1"/>
<rect x="192" y="423" width="3" height="1"/>
<rect x="192" y="419" width="3" height="1"/>
<rect x="189" y="415" width="6" height="1"/>
<rect x="192" y="411" width="3" height="1"/>
<rect x="192" y="407" width="3" height="1"/>
<rect x="192" y="403" width="3" height="1"/>
<rect x="192" y="400" width="3" height="1"/>
<rect x="189" y="396" width="6" height="1"/>
<rect x="192" y="392" width="3" height="1"/>
<rect x="192" y="388" width="3" height="1"/>
<rect x="192" y="384" width="3" height="1"/>
<rect x="192" y="380" width="3" height="1"/>
<rect x="189" y="376" width="6" height="1"/>
<rect x="192" y="372" width="3" height="1"/>
<rect x="192" y="369" width="3" height="1"/>
<rect x="192" y="365" width="3" height="1"/>
<rect x="192" y="361" width="3" height="1"/>
<rect x="189" y="357" width="6" height="1"/>
<rect x="192" y="353" width="3" height="1"/>
<rect x="192" y="349" width="3" height="1"/>
<rect x="192" y="345" width="3" height="1"/>
<rect x="192" y="341" width="3" height="1"/>
<rect x="189" y="338" width="6" height="1"/>
<rect x="192" y="334" width="3" height="1"/>
<rect x="192" y="330" width="3" height="1"/>
<rect x="192" y="326" width="3" height="1"/>
<rect x="192" y="322" width="3" height="1"/>
<rect x="189" y="318" width="6" height="1"/>
<rect x="192" y="314" width="3" height="1"/>
<rect x="192" y="310" width="3" height="1"/>
<rect x="192" y="307" width="3" height="1"/>
<rect x="192" y="303" width="3" height="1"/>
<rect x="189" y="299" width="6" height="1"/>
<rect x="192" y="295" width="3" height="1"/>
<rect x="192" y="291" width="3" height="1"/>
<rect x="192" y="287" width="3" height="1"/>
<rect x="192" y="283" width="3" height="1"/>
<rect x="189" y="280" width="6" height="1"/>
<rect x="192" y="276" width="3" height="1"/>
<rect x="192" y="272" width="3" height="1"/>
<rect x="192" y="268" width="3" height="1"/>
<rect x="192" y="264" width="3" height="1"/>
<rect x="189" y="260" width="6" height="1"/>
<rect x="192" y="256" width="3" height="1"/>
<rect x="192" y="252" width="3" height="1"/>
<rect x="192" y="249" width="3" height="1"/>
<rect x="192" y="245" width="3" height="1"/>
<rect x="189" y="241" width="6" height="1"/>
<rect x="192" y="237" width="3" height="1"/>
<rect x="192" y="233" width="3" height="1"/>
<rect x="192" y="229" width="3" height="1"/>
<rect x="192" y="225" width="3" height="1"/>
<rect x="189" y="221" width="6" height="1"/>
<rect x="192" y="218" width="3" height="1"/>
<rect x="192" y="214" width="3" height="1"/>
<rect x="192" y="210" width="3" height="1"/>
<rect x="192" y="206" width="3" height="1"/>
<rect x="189" y="202" width="6" height="1"/>
<rect x="192" y="198" width="3" height="1"/>
<rect x="192" y="194" width="3" height="1"/>
<rect x="192" y="190" width="3" height="1"/>
<rect x="192" y="187" width="3" height="1"/>
<rect x="189" y="183" width="6" height="1"/>
<rect x="192" y="179" width="3" height="1"/>
<rect x="192" y="175" width="3" height="1"/>
<rect x="192" y="171" width="3" height="1"/>
<rect x="192" y="167" width="3" height="1"/>
<rect x="189" y="163" width="6" height="1"/>
<rect x="192" y="160" width="3" height="1"/>
<rect x="192" y="156" width="3" height="1"/>
<rect x="192" y="152" width="3" height="1"/>
<rect x="192" y="148" width="3" height="1"/>
<rect x="189" y="144" width="6" height="1"/>
<rect x="192" y="140" width="3" height="1"/>
<rect x="192" y="136" width="3" height="1"/>
<rect x="192" y="132" width="3" height="1"/>
<rect x="192" y="129" width="3" height="1"/>
<rect x="189" y="125" width="6" height="1"/>
<rect x="192" y="121" width="3" height="1"/>
<rect x="192" y="117" width="3" height="1"/>
<rect x="192" y="113" width="3" height="1"/>
<rect x="192" y="109" width="3" height="1"/>
<rect x="189" y="105" width="6" height="1"/>
<rect x="192" y="101" width="3" height="1"/>
<rect x="192" y="98" width="3" height="1"/>
<rect x="192" y="94" width="3" height="1"/>
<rect x="192" y="90" width="3" height="1"/>
<rect x="189" y="86" width="6" height="1"/>
<rect x="192" y="82" width="3" height="1"/>
<rect x="192" y="78" width="3" height="1"/>
<rect x="192" y="74" width="3" height="1"/>
<rect x="192" y="70" width="3" height="1"/>
<rect x="189" y="67" width="6" height="1"/>
<rect x="192" y="63" width="3" height="1"/>
<rect x="192" y="59" width="3" height="1"/>
<rect x="189" y="55" width="6" height="1"/>
<rect x="218" y="520" width="1" height="5"/>
<rect x="264" y="520" width="1" height="5"/>
<rect x="311" y="520" width="1" height="5"/>
<rect x="358" y="520" width="1" height="5"/>
<rect x="404" y="520" width="1" height="5"/>
<rect x="451" y="520" width="1" height="5"/>
<rect x="498" y="520" width="1" height="5"/>
<rect x="544" y="520" width="1" height="5"/>
<rect x="591" y="520" width="1" height="5"/>
<rect x="638" y="520" width="1" height="5"/>
<rect x="255" y="521" width="10" height="1"/>
<rect x="338" y="521" width="12" height="1"/>
<rect x="385" y="521" width="7" height="1"/>
<rect x="498" y="521" width="11" height="1"/>
</g>
<text class="s" transform="translate(185.4,60.9) scale(1.37,1)" text-anchor="end">1280</text>
<text class="s" transform="translate(185.4,90.9) scale(1.37,1)" text-anchor="end">1200</text>
<text class="s" transform="translate(185.4,129.6) scale(1.37,1)" text-anchor="end">1100</text>
<text class="s" transform="translate(185.4,168.3) scale(1.37,1)" text-anchor="end">1000</text>
<text class="s" transform="translate(185.4,207.0) scale(1.37,1)" text-anchor="end">900</text>
<text class="s" transform="translate(185.4,245.7) scale(1.37,1)" text-anchor="end">800</text>
<text class="s" transform="translate(185.4,284.4) scale(1.37,1)" text-anchor="end">700</text>
<text class="s" transform="translate(185.4,323.1) scale(1.37,1)" text-anchor="end">600</text>
<text class="s" transform="translate(185.4,361.8) scale(1.37,1)" text-anchor="end">500</text>
<text class="s" transform="translate(185.4,400.5) scale(1.37,1)" text-anchor="end">400</text>
<text class="s" transform="translate(185.4,439.3) scale(1.37,1)" text-anchor="end">300</text>
<text class="s" transform="translate(185.4,478.0) scale(1.37,1)" text-anchor="end">200</text>
<text class="s" transform="translate(185.4,523.6) scale(1.37,1)" text-anchor="end">80</text>
<text class="s" transform="translate(218.5,540.6) scale(1.37,1)" text-anchor="middle">1</text>
<text class="s" transform="translate(265.2,540.6) scale(1.37,1)" text-anchor="middle">2</text>
<text class="s" transform="translate(311.8,540.6) scale(1.37,1)" text-anchor="middle">3</text>
<text class="s" transform="translate(358.5,540.6) scale(1.37,1)" text-anchor="middle">4</text>
<text class="s" transform="translate(405.2,540.6) scale(1.37,1)" text-anchor="middle">5</text>
<text class="s" transform="translate(451.8,540.6) scale(1.37,1)" text-anchor="middle">6</text>
<text class="s" transform="translate(498.5,540.6) scale(1.37,1)" text-anchor="middle">7</text>
<text class="s" transform="translate(545.2,540.6) scale(1.37,1)" text-anchor="middle">8</text>
<text class="s" transform="translate(591.8,540.6) scale(1.37,1)" text-anchor="middle">9</text>
<text class="s" transform="translate(637.0,540.6) scale(1.37,1)" text-anchor="middle">10</text>
<rect x="644" y="55" width="50" height="17" fill="#8e8e8e" shape-rendering="crispEdges"/>
<text class="l" transform="translate(645.2,67.9) scale(1.21,1)">NoVal</text>
<rect x="644" y="73" width="50" height="17" fill="#12e0f8" shape-rendering="crispEdges"/>
<text class="l" transform="translate(645.2,85.9) scale(1.21,1)">NNE</text>
<rect x="644" y="91" width="50" height="17" fill="#44a8ff" shape-rendering="crispEdges"/>
<text class="l" transform="translate(645.2,103.9) scale(1.21,1)">E</text>
<rect x="644" y="109" width="50" height="17" fill="#b000a0" shape-rendering="crispEdges"/>
<text class="l" transform="translate(645.2,121.9) scale(1.21,1)">W</text>
<rect x="644" y="127" width="50" height="17" fill="#ff4094" shape-rendering="crispEdges"/>
<text class="l" transform="translate(645.2,139.9) scale(1.21,1)">Vo-</text>
<rect x="644" y="145" width="50" height="17" fill="#ff0030" shape-rendering="crispEdges"/>
<text class="l" transform="translate(645.2,157.9) scale(1.21,1)">Vo+</text>
<rect x="644" y="163" width="50" height="17" fill="#f8b4ac" shape-rendering="crispEdges"/>
<text class="l" transform="translate(645.2,175.9) scale(1.21,1)">SSW</text>
<rect x="644" y="181" width="50" height="17" fill="#008010" shape-rendering="crispEdges"/>
<text class="l" transform="translate(645.2,193.9) scale(1.21,1)">X-</text>
<rect x="644" y="199" width="50" height="17" fill="#80b868" shape-rendering="crispEdges"/>
<text class="l" transform="translate(645.2,211.9) scale(1.21,1)">X+</text>
<rect x="644" y="217" width="50" height="17" fill="#d8d808" shape-rendering="crispEdges"/>
<text class="l" transform="translate(645.2,229.9) scale(1.21,1)">SSE</text>
<rect x="644" y="235" width="50" height="17" fill="#2000e8" shape-rendering="crispEdges"/>
<text class="l" transform="translate(645.2,247.9) scale(1.21,1)">NNW</text>
</svg></body></html>
